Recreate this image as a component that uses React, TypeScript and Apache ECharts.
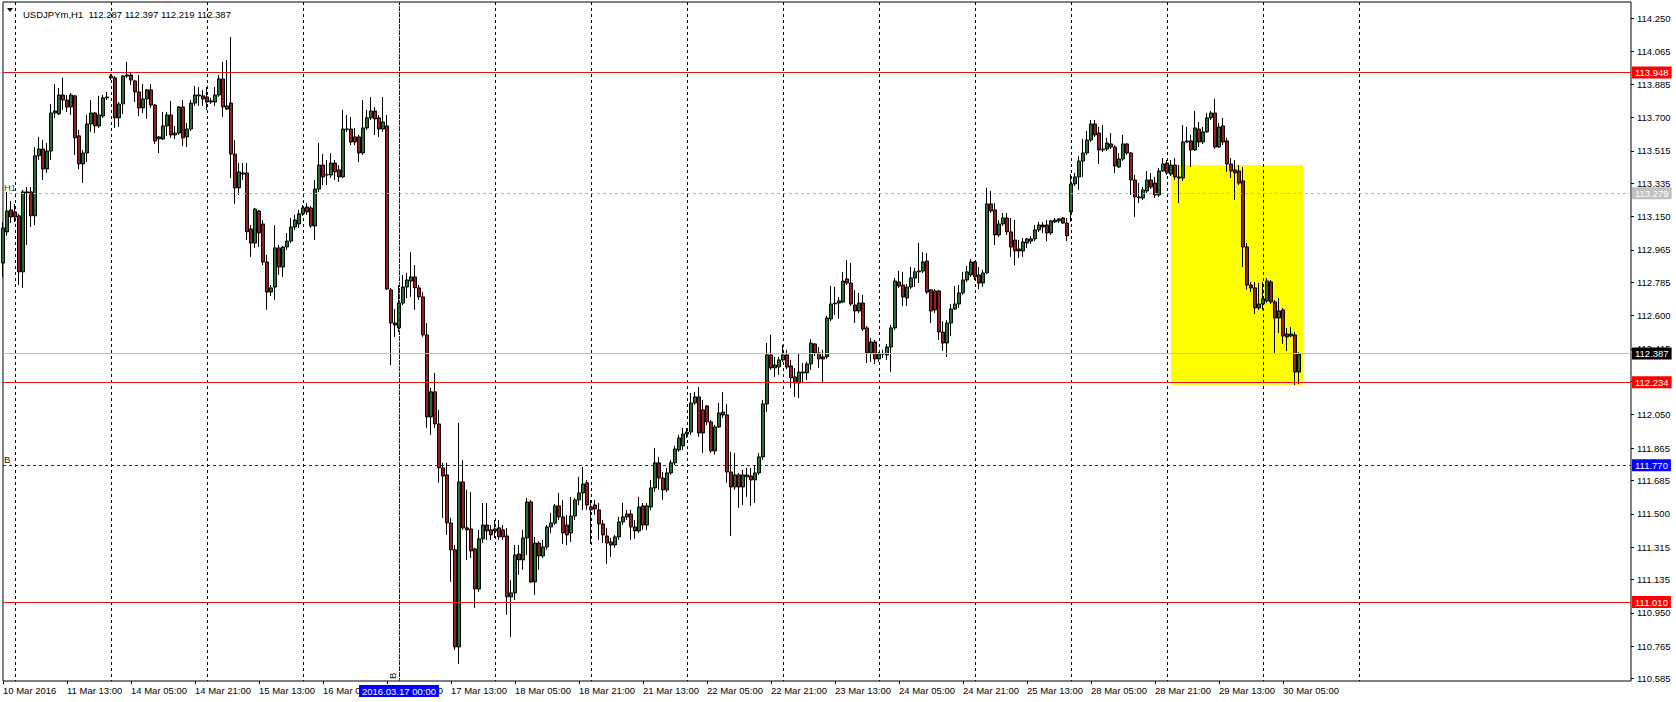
import React, { useEffect, useRef } from 'react';
import * as echarts from 'echarts';

const FONT = "'Liberation Sans', Arial, sans-serif";

const symbolName = 'USDJPYm,H1';
const lastOHLC = [112.287, 112.397, 112.219, 112.387];

// H1 bars, first bar = 10 Mar 2016 21:00
const opens = [
  112.892, 113.065, 113.187, 113.176, 113.154, 112.843, 113.287, 113.287, 113.154, 113.487,
  113.525, 113.414, 113.514, 113.725, 113.720, 113.825, 113.797, 113.758, 113.820, 113.598,
  113.442, 113.503, 113.664, 113.725, 113.653, 113.708, 113.809, 113.930, 113.920, 113.698,
  113.775, 113.930, 113.936, 113.903, 113.842, 113.753, 113.803, 113.853, 113.769, 113.581,
  113.581, 113.653, 113.714, 113.603, 113.614, 113.758, 113.592, 113.636, 113.780, 113.820,
  113.820, 113.814, 113.786, 113.786, 113.825, 113.914, 113.747, 113.780, 113.497, 113.309,
  113.392, 113.392, 113.081, 113.003, 113.181, 113.109, 112.898, 112.731, 112.759, 112.976,
  112.870, 112.981, 113.014, 113.092, 113.109, 113.165, 113.203, 113.198, 113.098, 113.303,
  113.436, 113.381, 113.381, 113.447, 113.409, 113.370, 113.636, 113.636, 113.592, 113.592,
  113.503, 113.642, 113.698, 113.736, 113.698, 113.636, 113.653, 112.743, 112.559, 112.532,
  112.670, 112.759, 112.792, 112.815, 112.754, 112.704, 112.493, 112.038, 112.177, 111.999,
  111.755, 111.716, 111.449, 111.300, 110.761, 111.677, 111.422, 111.416, 111.305, 111.083,
  111.361, 111.438, 111.411, 111.405, 111.422, 111.411, 111.377, 111.039, 111.061, 111.277,
  111.244, 111.366, 111.566, 111.122, 111.338, 111.266, 111.316, 111.427, 111.449, 111.544,
  111.483, 111.438, 111.394, 111.488, 111.577, 111.616, 111.672, 111.538, 111.549, 111.522,
  111.444, 111.377, 111.344, 111.327, 111.372, 111.455, 111.483, 111.499, 111.427, 111.405,
  111.544, 111.438, 111.538, 111.644, 111.783, 111.699, 111.633, 111.727, 111.783, 111.855,
  111.877, 111.943, 111.954, 112.115, 112.149, 112.077, 112.099, 112.010, 111.849, 111.982,
  112.065, 112.049, 111.732, 111.649, 111.716, 111.649, 111.705, 111.710, 111.688, 111.727,
  111.816, 112.110, 112.382, 112.310, 112.315, 112.354, 112.382, 112.321, 112.260, 112.226,
  112.282, 112.282, 112.332, 112.443, 112.393, 112.371, 112.371, 112.582, 112.665, 112.670,
  112.676, 112.804, 112.781, 112.659, 112.626, 112.670, 112.532, 112.393, 112.454, 112.360,
  112.387, 112.382, 112.426, 112.532, 112.787, 112.770, 112.698, 112.759, 112.809, 112.843,
  112.848, 112.903, 112.743, 112.737, 112.737, 112.509, 112.448, 112.559, 112.637, 112.665,
  112.726, 112.798, 112.826, 112.898, 112.826, 112.781, 112.837, 113.220, 113.187, 113.048,
  113.109, 113.142, 113.065, 113.020, 112.970, 112.959, 113.003, 113.014, 113.026, 113.076,
  113.103, 113.103, 113.059, 113.120, 113.126, 113.142, 113.114, 113.176, 113.331, 113.370,
  113.458, 113.503, 113.575, 113.664, 113.614, 113.525, 113.525, 113.553, 113.536, 113.425,
  113.470, 113.553, 113.503, 113.353, 113.259, 113.253, 113.292, 113.353, 113.336, 113.270,
  113.403, 113.447, 113.386, 113.436, 113.370, 113.364, 113.564, 113.570, 113.520, 113.636,
  113.564, 113.620, 113.698, 113.725, 113.536, 113.653, 113.570, 113.442, 113.409, 113.403,
  113.348, 112.981, 112.770, 112.754, 112.643, 112.665, 112.682, 112.787, 112.676, 112.587,
  112.632, 112.498, 112.487, 112.493, 112.287,
];

const closes = [
  113.087, 113.181, 113.148, 113.148, 112.843, 113.287, 113.281, 113.154, 113.487, 113.525,
  113.414, 113.514, 113.725, 113.736, 113.825, 113.797, 113.758, 113.825, 113.587, 113.442,
  113.503, 113.664, 113.725, 113.653, 113.714, 113.809, 113.814, 113.920, 113.698, 113.775,
  113.930, 113.936, 113.908, 113.842, 113.753, 113.803, 113.853, 113.769, 113.570, 113.592,
  113.653, 113.714, 113.603, 113.614, 113.758, 113.587, 113.636, 113.780, 113.825, 113.825,
  113.803, 113.786, 113.792, 113.825, 113.914, 113.758, 113.764, 113.497, 113.309, 113.398,
  113.386, 113.065, 113.003, 113.192, 113.059, 112.898, 112.731, 112.754, 112.976, 112.870,
  112.981, 113.014, 113.092, 113.131, 113.165, 113.198, 113.176, 113.098, 113.303, 113.436,
  113.370, 113.383, 113.447, 113.398, 113.370, 113.636, 113.634, 113.564, 113.564, 113.503,
  113.642, 113.698, 113.736, 113.692, 113.636, 113.675, 112.748, 112.559, 112.548, 112.670,
  112.759, 112.798, 112.815, 112.754, 112.704, 112.493, 112.038, 112.177, 111.999, 111.755,
  111.710, 111.449, 111.300, 110.761, 111.677, 111.422, 111.411, 111.294, 111.083, 111.361,
  111.438, 111.405, 111.383, 111.416, 111.372, 111.372, 111.039, 111.061, 111.272, 111.244,
  111.366, 111.566, 111.122, 111.338, 111.266, 111.316, 111.427, 111.449, 111.544, 111.483,
  111.394, 111.383, 111.488, 111.577, 111.616, 111.666, 111.549, 111.522, 111.527, 111.444,
  111.383, 111.338, 111.327, 111.372, 111.455, 111.483, 111.499, 111.427, 111.405, 111.538,
  111.438, 111.544, 111.644, 111.783, 111.699, 111.633, 111.727, 111.783, 111.860, 111.921,
  111.943, 111.954, 112.115, 112.149, 111.949, 111.949, 112.010, 111.849, 111.982, 112.060,
  112.049, 111.732, 111.649, 111.716, 111.649, 111.716, 111.716, 111.688, 111.727, 111.816,
  112.110, 112.382, 112.310, 112.326, 112.354, 112.382, 112.315, 112.254, 112.226, 112.287,
  112.287, 112.332, 112.448, 112.393, 112.360, 112.360, 112.587, 112.665, 112.670, 112.682,
  112.792, 112.781, 112.665, 112.626, 112.670, 112.526, 112.393, 112.454, 112.360, 112.387,
  112.388, 112.426, 112.532, 112.792, 112.765, 112.704, 112.759, 112.809, 112.843, 112.848,
  112.898, 112.731, 112.626, 112.632, 112.509, 112.448, 112.559, 112.637, 112.665, 112.726,
  112.798, 112.843, 112.898, 112.815, 112.781, 112.837, 113.220, 113.181, 113.048, 113.109,
  113.142, 113.065, 112.981, 112.959, 112.959, 113.009, 113.026, 113.026, 113.076, 113.103,
  113.092, 113.059, 113.126, 113.131, 113.137, 113.114, 113.043, 113.331, 113.370, 113.458,
  113.503, 113.575, 113.664, 113.603, 113.520, 113.520, 113.558, 113.536, 113.431, 113.470,
  113.553, 113.503, 113.353, 113.259, 113.253, 113.298, 113.353, 113.314, 113.270, 113.403,
  113.442, 113.392, 113.436, 113.370, 113.364, 113.564, 113.570, 113.520, 113.642, 113.564,
  113.620, 113.698, 113.725, 113.536, 113.647, 113.564, 113.442, 113.403, 113.392, 113.336,
  112.981, 112.770, 112.754, 112.643, 112.665, 112.693, 112.792, 112.676, 112.587, 112.626,
  112.487, 112.482, 112.498, 112.287, 112.387,
];

const highs = [
  113.120, 113.287, 113.236, 113.220, 113.165, 113.298, 113.314, 113.314, 113.536, 113.592,
  113.575, 113.558, 113.775, 113.886, 113.864, 113.920, 113.825, 113.836, 113.825, 113.631,
  113.520, 113.714, 113.797, 113.731, 113.820, 113.825, 113.842, 113.942, 113.930, 113.786,
  113.936, 114.008, 113.953, 113.908, 113.936, 113.886, 113.858, 113.886, 113.775, 113.598,
  113.731, 113.731, 113.792, 113.653, 113.764, 113.797, 113.669, 113.797, 113.875, 113.869,
  113.853, 113.869, 113.809, 113.869, 113.936, 114.008, 114.019, 114.147, 113.575, 113.447,
  113.447, 113.447, 113.103, 113.198, 113.187, 113.131, 112.937, 112.770, 113.103, 112.992,
  112.987, 113.059, 113.142, 113.159, 113.187, 113.214, 113.225, 113.209, 113.353, 113.558,
  113.497, 113.464, 113.503, 113.464, 113.436, 113.742, 113.714, 113.703, 113.642, 113.603,
  113.797, 113.742, 113.814, 113.758, 113.714, 113.814, 113.714, 112.754, 112.637, 112.770,
  112.826, 112.837, 112.953, 112.881, 112.770, 112.731, 112.559, 112.199, 112.282, 112.077,
  111.783, 111.783, 111.477, 111.327, 112.004, 111.799, 111.633, 111.622, 111.311, 111.411,
  111.560, 111.560, 111.438, 111.466, 111.466, 111.438, 111.422, 111.133, 111.327, 111.327,
  111.411, 111.588, 111.577, 111.372, 111.349, 111.355, 111.438, 111.505, 111.555, 111.616,
  111.577, 111.494, 111.594, 111.588, 111.705, 111.760, 111.688, 111.577, 111.577, 111.560,
  111.466, 111.422, 111.366, 111.383, 111.483, 111.560, 111.522, 111.522, 111.466, 111.594,
  111.560, 111.560, 111.688, 111.866, 111.816, 111.732, 111.755, 111.799, 111.877, 111.938,
  111.977, 111.977, 112.171, 112.177, 112.204, 112.132, 112.104, 112.021, 111.993, 112.115,
  112.177, 112.110, 111.844, 111.838, 111.727, 111.744, 111.755, 111.755, 111.771, 111.838,
  112.132, 112.448, 112.493, 112.371, 112.371, 112.437, 112.410, 112.354, 112.310, 112.393,
  112.337, 112.343, 112.470, 112.448, 112.426, 112.410, 112.598, 112.765, 112.759, 112.704,
  112.843, 112.909, 112.892, 112.743, 112.726, 112.715, 112.543, 112.476, 112.465, 112.399,
  112.410, 112.443, 112.548, 112.809, 112.848, 112.843, 112.776, 112.870, 112.865, 113.003,
  112.953, 112.948, 112.748, 112.748, 112.743, 112.570, 112.576, 112.665, 112.765, 112.770,
  112.843, 112.876, 112.914, 112.903, 112.870, 112.854, 113.309, 113.292, 113.225, 113.131,
  113.170, 113.170, 113.142, 113.131, 113.020, 113.031, 113.031, 113.042, 113.103, 113.120,
  113.120, 113.131, 113.131, 113.142, 113.142, 113.148, 113.142, 113.386, 113.392, 113.486,
  113.581, 113.625, 113.686, 113.686, 113.647, 113.658, 113.587, 113.614, 113.547, 113.503,
  113.603, 113.558, 113.508, 113.381, 113.336, 113.314, 113.403, 113.392, 113.370, 113.420,
  113.475, 113.464, 113.464, 113.475, 113.436, 113.658, 113.647, 113.603, 113.736, 113.675,
  113.647, 113.725, 113.736, 113.803, 113.669, 113.698, 113.587, 113.475, 113.464, 113.436,
  113.425, 113.003, 112.787, 112.787, 112.781, 112.787, 112.809, 112.798, 112.687, 112.698,
  112.643, 112.532, 112.537, 112.509, 112.397,
];

const lows = [
  112.815, 113.043, 113.114, 113.120, 112.770, 112.754, 112.992, 113.092, 113.103, 113.464,
  113.353, 113.392, 113.464, 113.698, 113.714, 113.742, 113.731, 113.714, 113.492, 113.414,
  113.336, 113.453, 113.620, 113.614, 113.642, 113.698, 113.797, 113.908, 113.642, 113.647,
  113.720, 113.920, 113.880, 113.786, 113.708, 113.725, 113.692, 113.753, 113.553, 113.503,
  113.575, 113.598, 113.587, 113.581, 113.603, 113.542, 113.536, 113.625, 113.764, 113.764,
  113.764, 113.742, 113.775, 113.764, 113.814, 113.703, 113.742, 113.364, 113.220, 113.270,
  113.353, 113.020, 112.926, 112.976, 112.981, 112.881, 112.632, 112.709, 112.687, 112.826,
  112.815, 112.965, 113.003, 113.076, 113.087, 113.154, 113.159, 113.087, 113.020, 113.287,
  113.325, 113.325, 113.364, 113.353, 113.342, 113.364, 113.620, 113.547, 113.547, 113.453,
  113.492, 113.631, 113.686, 113.603, 113.592, 113.620, 112.743, 112.326, 112.482, 112.509,
  112.659, 112.698, 112.704, 112.632, 112.687, 112.482, 111.977, 111.938, 111.977, 111.672,
  111.477, 111.383, 111.122, 110.745, 110.667, 111.411, 111.244, 111.255, 110.978, 111.067,
  111.338, 111.355, 111.355, 111.366, 111.355, 111.355, 110.939, 110.817, 111.022, 111.161,
  111.189, 111.272, 111.116, 111.050, 111.189, 111.255, 111.300, 111.394, 111.438, 111.466,
  111.333, 111.327, 111.344, 111.466, 111.549, 111.522, 111.522, 111.333, 111.494, 111.355,
  111.338, 111.222, 111.261, 111.311, 111.355, 111.438, 111.466, 111.355, 111.361, 111.394,
  111.411, 111.411, 111.522, 111.622, 111.633, 111.577, 111.622, 111.716, 111.771, 111.844,
  111.855, 111.921, 111.938, 112.104, 111.927, 111.838, 111.993, 111.838, 111.827, 111.977,
  112.032, 111.672, 111.377, 111.633, 111.533, 111.549, 111.594, 111.544, 111.560, 111.716,
  111.799, 112.065, 112.299, 112.260, 112.271, 112.343, 112.304, 112.199, 112.149, 112.143,
  112.226, 112.243, 112.299, 112.376, 112.310, 112.226, 112.360, 112.570, 112.604, 112.582,
  112.670, 112.770, 112.654, 112.559, 112.615, 112.515, 112.337, 112.343, 112.332, 112.343,
  112.365, 112.354, 112.288, 112.521, 112.754, 112.654, 112.654, 112.748, 112.759, 112.781,
  112.837, 112.720, 112.559, 112.615, 112.465, 112.404, 112.371, 112.487, 112.632, 112.643,
  112.715, 112.787, 112.815, 112.798, 112.748, 112.759, 112.832, 113.170, 112.992, 113.037,
  113.098, 113.048, 112.926, 112.881, 112.920, 112.926, 112.976, 112.998, 113.014, 113.065,
  113.059, 113.014, 113.048, 113.114, 113.114, 113.109, 113.014, 113.120, 113.320, 113.298,
  113.370, 113.492, 113.564, 113.592, 113.442, 113.508, 113.514, 113.525, 113.392, 113.420,
  113.459, 113.492, 113.270, 113.148, 113.225, 113.242, 113.281, 113.303, 113.253, 113.259,
  113.398, 113.381, 113.375, 113.353, 113.225, 113.347, 113.558, 113.425, 113.514, 113.536,
  113.553, 113.614, 113.686, 113.525, 113.531, 113.547, 113.398, 113.364, 113.242, 113.325,
  112.870, 112.743, 112.731, 112.609, 112.632, 112.632, 112.670, 112.665, 112.393, 112.504,
  112.443, 112.404, 112.482, 112.215, 112.219,
];

// empty H1 slots to the right of the last bar
const futureSlots = 83;

// time-axis labels, one every 16 bars from the first bar
const xTickLabels = [
  '10 Mar 2016', '11 Mar 13:00', '14 Mar 05:00', '14 Mar 21:00', '15 Mar 13:00',
  '16 Mar 05:00', '16 Mar 21:00', '17 Mar 13:00', '18 Mar 05:00', '18 Mar 21:00',
  '21 Mar 13:00', '22 Mar 05:00', '22 Mar 21:00', '23 Mar 13:00', '24 Mar 05:00',
  '24 Mar 21:00', '25 Mar 13:00', '28 Mar 05:00', '28 Mar 21:00', '29 Mar 13:00',
  '30 Mar 05:00',
];
const labelStep = 16;
const firstDayStart = 3; // bar index of 11 Mar 00:00
const barsPerDay = 24;
const lastDayLine = 339;

const yTickValues = [
  110.585, 110.765, 110.950, 111.135, 111.315, 111.500, 111.685, 111.865, 112.050, 112.235,
  112.415, 112.600, 112.785, 112.965, 113.150, 113.335, 113.515, 113.700, 113.885, 114.065, 114.250,
];
const yHiddenLabel = 112.235;
const yMin = 110.572;
const yMax = 114.341;

const resistanceLevel = 113.948;
const h1Level = 113.279;
const bidLevel = 112.387;
const supportLevel = 112.234;
const bLevel = 111.770;
const lowLevel = 111.010;

const vLineIndex = 99;
const vLineText = '2016.03.17 00:00';

const zoneFrom = 292;
const zoneTo = 325;
const zoneTop = 113.436;
const zoneBottom = 112.216;

const categories = Array.from({ length: opens.length + futureSlots }, (_, i) => String(i));
const candles = opens.map((o, i) => [o, closes[i], lows[i], highs[i]]);

const isLabelIdx = (i: number) => i % labelStep === 0 && i / labelStep < xTickLabels.length;
const isDayIdx = (i: number) => i >= firstDayStart && (i - firstDayStart) % barsPerDay === 0 && i <= lastDayLine;

const RED_LINE = '#dc1414';
const BLUE_LINE = '#1c1cb4';

const boxLabel = (text: string, bg: string, fg = '#ffffff') => ({
  show: true,
  position: 'end',
  formatter: text,
  backgroundColor: bg,
  color: fg,
  padding: [1, 3, 0, 3],
  lineHeight: 11,
  distance: 1,
  fontSize: 9.5,
  fontFamily: FONT,
});

const hiddenLine = { color: 'rgba(0,0,0,0)', width: 0 };

const option: any = {
  animation: false,
  backgroundColor: '#ffffff',
  textStyle: { fontFamily: FONT },
  title: {
    text: `${symbolName}  ${lastOHLC.map((v) => v.toFixed(3)).join(' ')}`,
    left: 18,
    top: 4,
    textStyle: { fontSize: 9.5, fontWeight: 'normal', color: '#000', fontFamily: FONT },
  },
  graphic: [
    { type: 'polygon', shape: { points: [[7, 8], [13, 8], [10, 12]] }, style: { fill: '#000' } },
  ],
  grid: {
    left: 3,
    right: 45,
    top: 2,
    bottom: 21,
    show: true,
    borderColor: '#000',
    borderWidth: 1,
    backgroundColor: '#fff',
  },
  xAxis: {
    type: 'category',
    data: categories,
    boundaryGap: false,
    z: 2,
    axisLine: { show: false },
    axisTick: { show: true, interval: (i: number) => isLabelIdx(i), length: 3, lineStyle: { color: '#000' } },
    axisLabel: {
      interval: (i: number) => isLabelIdx(i),
      formatter: (_v: string, i: number) => xTickLabels[i / labelStep] ?? '',
      align: 'left',
      margin: 4,
      fontSize: 9.5,
      color: '#000',
      fontFamily: FONT,
    },
    splitLine: {
      show: true,
      interval: (i: number) => isDayIdx(i),
      lineStyle: { color: '#000', type: [3, 3], width: 1 },
    },
  },
  yAxis: {
    type: 'value',
    position: 'right',
    min: yMin,
    max: yMax,
    z: 2,
    axisLine: { show: false },
    axisTick: { show: true, customValues: yTickValues, length: 3, lineStyle: { color: '#000' } },
    axisLabel: {
      customValues: yTickValues.filter((v) => v !== yHiddenLabel),
      formatter: (v: number) => v.toFixed(3),
      margin: 6,
      fontSize: 9.5,
      color: '#000',
      fontFamily: FONT,
    },
    splitLine: { show: false },
  },
  series: [
    {
      type: 'line',
      data: [],
      z: 1,
      silent: true,
      markArea: {
        silent: true,
        itemStyle: { color: '#ffff00', opacity: 1 },
        data: [[{ xAxis: String(zoneFrom), yAxis: zoneTop }, { xAxis: String(zoneTo), yAxis: zoneBottom }]],
      },
    },
    {
      type: 'candlestick',
      z: 3,
      data: candles,
      barWidth: 3,
      itemStyle: {
        color: '#23702b',
        color0: '#9a1c1c',
        borderColor: '#000',
        borderColor0: '#000',
        borderColorDoji: '#000',
        borderWidth: 1,
      },
      markLine: {
        symbol: 'none',
        silent: true,
        animation: false,
        data: [
          { yAxis: resistanceLevel, lineStyle: { color: RED_LINE, type: 'solid', width: 1 }, label: boxLabel(resistanceLevel.toFixed(3), '#ff0000') },
          {
            yAxis: h1Level,
            lineStyle: { color: '#b4b4b4', type: [3, 3], width: 1 },
            label: { show: true, position: 'insideStartTop', formatter: 'H1', color: '#404040', distance: 1, fontSize: 9.5, fontFamily: FONT },
          },
          { yAxis: h1Level, lineStyle: hiddenLine, label: boxLabel(h1Level.toFixed(3), '#c0c0c0') },
          { yAxis: bidLevel, lineStyle: { color: '#c0c0c0', type: 'solid', width: 1 }, label: boxLabel(bidLevel.toFixed(3), '#000000') },
          { yAxis: supportLevel, lineStyle: { color: RED_LINE, type: 'solid', width: 1 }, label: boxLabel(supportLevel.toFixed(3), '#ff0000') },
          {
            yAxis: bLevel,
            lineStyle: { color: BLUE_LINE, type: [3, 3], width: 1 },
            label: { show: true, position: 'insideStartTop', formatter: 'B', color: '#202020', distance: 1, fontSize: 9.5, fontFamily: FONT },
          },
          { yAxis: bLevel, lineStyle: hiddenLine, label: boxLabel(bLevel.toFixed(3), '#0000ff') },
          { yAxis: lowLevel, lineStyle: { color: RED_LINE, type: 'solid', width: 1 }, label: boxLabel(lowLevel.toFixed(3), '#ff0000') },
          {
            xAxis: String(vLineIndex),
            lineStyle: { color: BLUE_LINE, type: [3, 3], width: 1 },
            label: { show: true, position: 'insideStartTop', formatter: 'B', color: '#202020', distance: 2, fontSize: 9.5, fontFamily: FONT },
          },
          {
            xAxis: String(vLineIndex),
            lineStyle: hiddenLine,
            label: {
              show: true,
              position: 'start',
              formatter: vLineText,
              backgroundColor: '#0000ff',
              color: '#fff',
              padding: [1, 3, 0, 3],
              lineHeight: 11,
              distance: 4,
              fontSize: 9.5,
              fontFamily: FONT,
            },
          },
        ],
      },
    },
  ],
};

export default function App() {
  const ref = useRef<HTMLDivElement>(null);
  useEffect(() => {
    const chart = echarts.init(ref.current!, null, { renderer: 'svg' });
    chart.setOption(option);
    return () => chart.dispose();
  }, []);
  return (
    <div
      ref={ref}
      style={{ position: 'fixed', left: 0, top: 0, width: 1676, height: 702, background: '#fff' }}
    />
  );
}
